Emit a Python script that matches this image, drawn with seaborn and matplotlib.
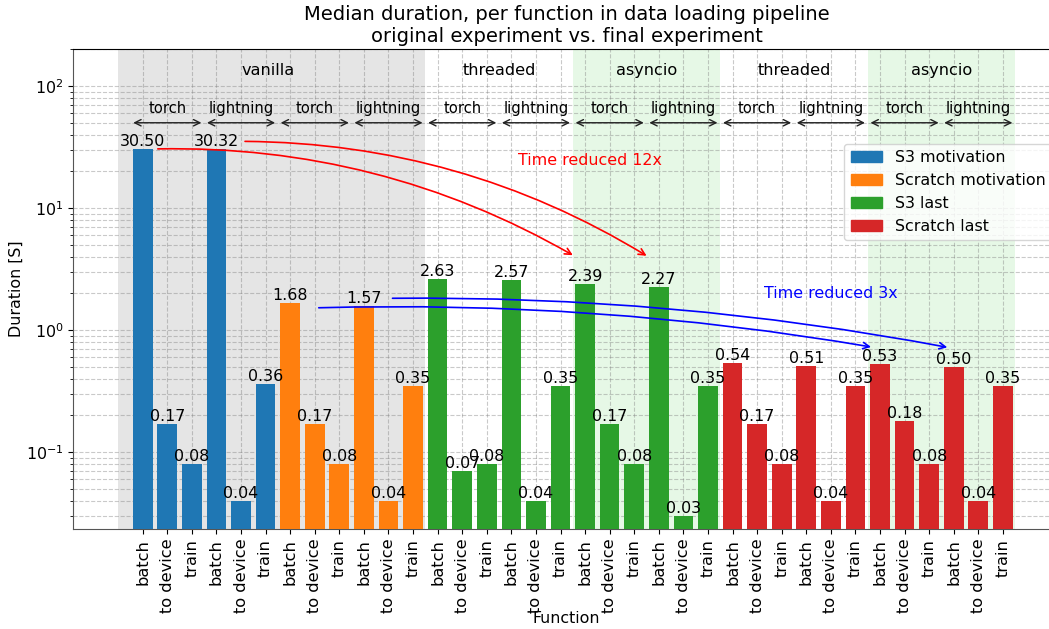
import matplotlib
matplotlib.use("Agg")
import matplotlib.pyplot as plt
import seaborn as sns
import numpy as np
import pandas as pd

# ---- data ----
functions = ["batch", "to device", "train"]
series_names = ["S3 motivation", "Scratch motivation", "S3 last", "Scratch last"]
s3_motivation = [30.50, 0.17, 0.08, 30.32, 0.04, 0.36]
scratch_motivation = [1.68, 0.17, 0.08, 1.57, 0.04, 0.35]
s3_last = [2.63, 0.07, 0.08, 2.57, 0.04, 0.35, 2.39, 0.17, 0.08, 2.27, 0.03, 0.35]
scratch_last = [0.54, 0.17, 0.08, 0.51, 0.04, 0.35, 0.53, 0.18, 0.08, 0.50, 0.04, 0.35]
frameworks = ["torch", "lightning"] * 6
top_groups = ["vanilla", "threaded", "asyncio", "threaded", "asyncio"]

series_values = [s3_motivation, scratch_motivation, s3_last, scratch_last]
rows = []
pos = 0
for name, vals in zip(series_names, series_values):
    for i, v in enumerate(vals):
        rows.append({"pos": pos, "function": functions[i % 3], "series": name, "duration": v})
        pos += 1
df = pd.DataFrame(rows)

FS = 11.4
plt.rcParams["font.size"] = FS
fig = plt.figure(figsize=(10.49, 6.29), dpi=100)
ax = fig.add_axes([73.3 / 1049, 100 / 629, (1060 - 73.3) / 1049, (529 - 49.3) / 629])

palette = dict(zip(series_names, sns.color_palette("tab10", 4)))
ax.set_yscale("log")
sns.barplot(data=df, x="pos", y="duration", hue="series", dodge=False,
            native_scale=True, palette=palette, width=0.8, ax=ax,
            legend=False, saturation=1, zorder=3)

for cont in ax.containers:
    ax.bar_label(cont, fmt="%.2f", fontsize=FS, zorder=4)

# background spans
ax.axvspan(-1, 11.5, color="#e5e5e5", zorder=0, lw=0)
ax.axvspan(17.5, 23.5, color="#e6f8e6", zorder=0, lw=0)
ax.axvspan(29.5, 35.5, color="#e6f8e6", zorder=0, lw=0)

ax.set_xlim(-2.825, 37.325)
ax.set_ylim(0.0234, 200)

ax.set_xticks(df["pos"].values)
ax.set_xticklabels(df["function"].values, rotation=90, fontsize=11.7)
ax.grid(True, which="major", axis="both", linestyle="--", color="gray", alpha=0.42, lw=0.8, zorder=1)
ax.grid(True, which="minor", axis="y", linestyle="--", color="gray", alpha=0.42, lw=0.8, zorder=1)
ax.set_axisbelow(True)

# framework arrows and labels
for i, fw in enumerate(frameworks):
    ax.annotate("", xy=(3 * i + 2.5, 50), xytext=(3 * i - 0.5, 50),
                arrowprops=dict(arrowstyle="<->", color="#222222", lw=1))
    ax.text(3 * i + 1, 66, fw, ha="center", va="center", fontsize=10.6)

top_x = [5.1, 14.5, 20.5, 26.5, 32.5]
for x, t in zip(top_x, top_groups):
    ax.text(x, 133, t, ha="center", va="center", fontsize=11.6)

# reduction annotations
ax.annotate("", xy=(17.6, 4.0), xytext=(0.5, 30.5),
            arrowprops=dict(arrowstyle="->", color="red", lw=1.2,
                            connectionstyle="arc3,rad=-0.14"))
ax.annotate("", xy=(20.6, 3.95), xytext=(4.05, 35.2),
            arrowprops=dict(arrowstyle="->", color="red", lw=1.2,
                            connectionstyle="arc3,rad=-0.14"))
ax.text(18.2, 24.7, "Time reduced 12x", color="red", ha="center", va="center", fontsize=FS)

ax.annotate("", xy=(29.75, 0.72), xytext=(7.05, 1.52),
            arrowprops=dict(arrowstyle="->", color="blue", lw=1.2,
                            connectionstyle="arc3,rad=-0.05"))
ax.annotate("", xy=(32.85, 0.715), xytext=(10.05, 1.82),
            arrowprops=dict(arrowstyle="->", color="blue", lw=1.2,
                            connectionstyle="arc3,rad=-0.05"))
ax.text(28.0, 2.01, "Time reduced 3x", color="blue", ha="center", va="center", fontsize=FS)

handles = [plt.Rectangle((0, 0), 1, 1, color=palette[n]) for n in series_names]
ax.legend(handles, series_names, loc="upper right", bbox_to_anchor=(1.0, 0.82), fontsize=FS)

ax.set_title("Median duration, per function in data loading pipeline\noriginal experiment vs. final experiment",
             fontsize=14, pad=5)
ax.set_xlabel("Function")
ax.xaxis.set_label_coords(0.5, -0.171)
ax.set_ylabel("Duration [S]")
ax.yaxis.set_label_coords(-0.05, 0.5)
for s in ["left", "bottom"]:
    ax.spines[s].set_color("#555555")

fig.savefig("out.png", dpi=100)
